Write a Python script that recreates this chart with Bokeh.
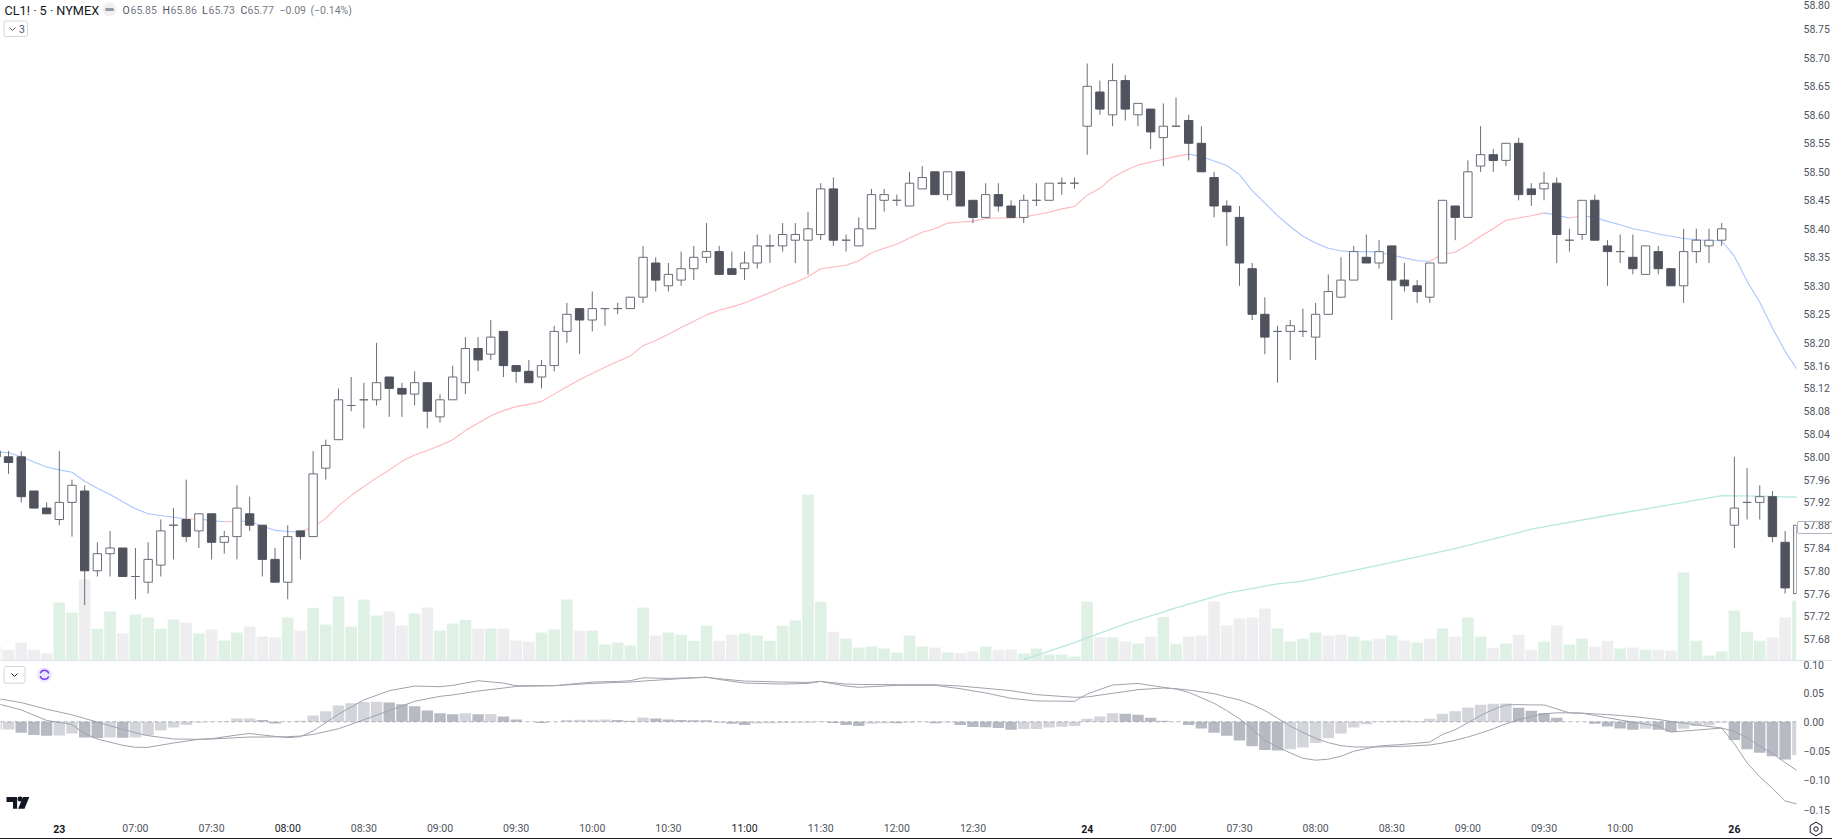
from bokeh.plotting import figure
from bokeh.layouts import column
from bokeh.models import (Range1d, FixedTicker, Label, BoxAnnotation, Span,
                          PrintfTickFormatter, ColumnDataSource)
from bokeh.core.properties import value
from bokeh.embed import file_html
from bokeh.resources import INLINE

bars = list(range(-5, 138))

opens = [58.01,58.00,58.00,57.94,57.91,57.89,57.92,57.94,57.80,57.83,
         57.84,57.79,57.78,57.81,57.88,57.89,57.87,57.90,57.85,57.86,
         57.90,57.88,57.82,57.78,57.87,57.86,57.98,58.03,58.09,58.10,
         58.10,58.14,58.12,58.11,58.13,58.07,58.10,58.13,58.19,58.18,
         58.22,58.16,58.15,58.14,58.16,58.22,58.26,58.24,58.26,58.26,
         58.26,58.28,58.34,58.30,58.31,58.33,58.35,58.36,58.33,58.33,
         58.34,58.37,58.37,58.38,58.38,58.39,58.47,58.38,58.37,58.40,
         58.45,58.45,58.44,58.47,58.50,58.46,58.50,58.45,58.42,58.46,
         58.44,58.42,58.45,58.45,58.48,58.48,58.58,58.64,58.60,58.66,
         58.60,58.61,58.56,58.58,58.59,58.55,58.49,58.44,58.42,58.33,
         58.25,58.22,58.22,58.22,58.21,58.25,58.28,58.31,58.35,58.34,
         58.37,58.31,58.30,58.28,58.34,58.44,58.42,58.51,58.53,58.52,
         58.55,58.47,58.47,58.48,58.38,58.39,58.45,58.37,58.36,58.35,
         58.32,58.36,58.33,58.30,58.36,58.37,58.38,57.88,57.92,57.92,
         57.93,57.85,57.76]
highs = [58.01,58.01,58.01,57.94,57.92,58.01,57.96,57.95,57.85,57.87,
         57.84,57.84,57.85,57.89,57.91,57.96,57.90,57.90,57.87,57.95,
         57.93,57.88,57.84,57.88,57.87,58.01,58.03,58.12,58.14,58.13,
         58.20,58.14,58.13,58.15,58.13,58.11,58.16,58.21,58.21,58.24,
         58.22,58.16,58.17,58.17,58.23,58.27,58.26,58.29,58.26,58.27,
         58.28,58.37,58.35,58.34,58.36,58.37,58.41,58.37,58.36,58.36,
         58.39,58.39,58.41,58.41,58.43,58.48,58.49,58.39,58.42,58.47,
         58.47,58.46,58.50,58.51,58.50,58.50,58.50,58.45,58.48,58.48,
         58.45,58.46,58.48,58.48,58.49,58.49,58.69,58.66,58.69,58.67,
         58.62,58.61,58.62,58.63,58.60,58.58,58.50,58.45,58.44,58.34,
         58.28,58.23,58.24,58.26,58.27,58.32,58.35,58.37,58.39,58.38,
         58.37,58.34,58.31,58.34,58.45,58.44,58.52,58.58,58.54,58.55,
         58.56,58.48,58.50,58.49,58.40,58.45,58.46,58.38,58.39,58.39,
         58.37,58.37,58.33,58.40,58.40,58.40,58.41,58.00,57.98,57.95,
         57.94,57.87,57.88]
lows = [58.00,57.97,57.92,57.91,57.90,57.88,57.86,57.74,57.79,57.79,
        57.79,57.75,57.76,57.79,57.82,57.85,57.84,57.82,57.83,57.82,
        57.87,57.79,57.78,57.75,57.82,57.86,57.96,58.03,58.08,58.05,
        58.09,58.07,58.07,58.09,58.05,58.06,58.10,58.11,58.15,58.17,
        58.14,58.13,58.13,58.12,58.15,58.20,58.18,58.22,58.23,58.25,
        58.26,58.27,58.29,58.29,58.30,58.31,58.34,58.32,58.32,58.31,
        58.33,58.34,58.36,58.34,58.32,58.38,58.37,58.36,58.37,58.40,
        58.43,58.44,58.44,58.47,58.46,58.45,58.44,58.41,58.42,58.43,
        58.42,58.41,58.44,58.45,58.46,58.47,58.53,58.60,58.58,58.59,
        58.58,58.54,58.51,58.58,58.52,58.50,58.42,58.37,58.30,58.24,
        58.18,58.13,58.17,58.21,58.17,58.25,58.28,58.31,58.34,58.33,
        58.24,58.29,58.27,58.27,58.34,58.38,58.42,58.50,58.50,58.51,
        58.45,58.44,58.45,58.34,58.36,58.38,58.38,58.30,58.34,58.32,
        58.32,58.32,58.30,58.27,58.34,58.34,58.37,57.84,57.89,57.89,
        57.85,57.76,57.76]
closes = [58.00,57.99,57.93,57.91,57.90,57.92,57.95,57.80,57.83,57.84,
          57.79,57.79,57.82,57.87,57.88,57.86,57.90,57.85,57.86,57.91,
          57.88,57.82,57.78,57.86,57.86,57.97,58.02,58.10,58.09,58.10,
          58.13,58.12,58.11,58.13,58.08,58.10,58.14,58.19,58.17,58.21,
          58.16,58.15,58.13,58.16,58.22,58.25,58.24,58.26,58.26,58.26,
          58.28,58.35,58.31,58.32,58.33,58.35,58.36,58.32,58.32,58.34,
          58.37,58.37,58.39,58.39,58.40,58.47,58.38,58.38,58.40,58.46,
          58.46,58.45,58.48,58.49,58.46,58.50,58.44,58.42,58.46,58.44,
          58.42,58.45,58.45,58.48,58.48,58.48,58.65,58.61,58.66,58.61,
          58.62,58.57,58.58,58.58,58.55,58.50,58.44,58.43,58.34,58.25,
          58.21,58.22,58.23,58.22,58.25,58.29,58.31,58.36,58.34,58.36,
          58.31,58.30,58.29,58.34,58.45,58.42,58.50,58.53,58.52,58.55,
          58.46,58.46,58.48,58.39,58.38,58.45,58.38,58.36,58.36,58.33,
          58.37,58.33,58.30,58.36,58.38,58.38,58.40,57.91,57.92,57.93,
          57.86,57.77,57.88]

# moving average, in cents above 58.00
ema_cents = [.9,.7,0,-.9,-1.8,-2.3,-2.7,-4.3,-5.5,-6.6,
             -7.9,-9.1,-10,-10.3,-10.6,-10.9,-10.9,-11.2,-11.4,-11.3,
             -11.3,-12.2,-12.9,-13.1,-13.2,-12.3,-10.8,-8.6,-6.8,-5.2,
             -3.7,-2.3,-.8,.3,1.1,2,3,4.6,5.9,7.2,
             8.1,8.8,9.2,9.7,11,12.3,13.5,14.6,15.7,16.7,
             17.7,19.5,20.4,21.5,22.7,23.8,24.9,25.7,26.3,27,
             27.9,28.8,29.8,30.6,31.6,33,33.3,33.6,34.4,35.8,
             36.6,37.3,38.4,39.4,40,41,41.2,41.3,41.8,41.9,
             41.9,42,42.5,42.9,43.5,43.9,45.9,47.1,49,50.2,
             51.2,51.7,52.2,52.7,53.1,52.7,51.9,51.1,49.5,46.7,
             44.5,42.3,40.4,38.7,37.5,36.6,36.1,36,36,35.9,
             35.4,34.9,34.4,34.3,35.5,35.9,37.2,38.7,40,41.5,
             41.9,42.3,42.8,42.4,41.9,42.3,42,41.3,40.7,40,
             39.6,39.1,38.7,38.3,38.1,37.9,37.9,35.2,30.8,27.1,
             22.6,18.5,15.2]
ema_red_spans = [(10, 11), (13, 14), (19, 89), (108, 117), (119, 120)]

sma_bars = [76,80,84,88,92,96,98,104,110,116,122,128,131,134,137]
sma_cents = [-35.6,-32.6,-29.3,-26.5,-23.9,-22.3,-21.8,-19,-16.1,-12.7,-10.3,-8,-6.8,-6.9,-7.1]

volume = [14,10.7,18,10.7,7,58,48,81,31.7,49,
          27,46,43,31.7,41,38,27,31,20,28,
          34,24,23,43,30,52.7,36,64,34,61,
          45,49,35,47,53,30,37,40.7,32,32,
          32,20,19,28,31,61,30,30,16,18,
          15,53,25,28,25.7,19.7,34.7,19.7,25.7,27,
          25,19.7,34.7,40,166,58.7,28.7,22,13,14,
          12,8,25,14,13,8,7.3,9,14,10.7,
          11,7,12,6,6,4,59,23.3,23,19,
          17,24,43.3,16.7,24,25,59,35,42,43,
          52,32,19,21.7,28,25,26,24,20,22,
          25,20,18,22,32,24,43,24,12.7,17,
          25.7,10.7,19,35,16,22,14,19.7,12,13,
          10.7,10.7,10,88,19.7,5,9,50,28.7,19.7,
          23,43,60]
vol_up = [1,0,0,0,0,1,1,0,1,1,
          0,1,1,1,1,0,1,0,1,1,
          0,0,0,1,0,1,1,1,1,1,
          1,0,0,1,0,1,1,1,0,1,
          0,0,0,1,1,1,0,1,1,1,
          1,1,0,1,1,1,1,0,0,1,
          1,1,1,1,1,1,0,1,1,1,
          1,1,1,1,0,1,0,0,1,0,
          0,1,1,1,1,1,1,0,1,0,
          1,0,1,1,0,0,0,0,0,0,
          0,1,1,1,1,0,0,1,1,0,
          1,0,1,0,1,0,1,1,0,1,
          0,0,1,0,1,1,0,0,1,0,
          1,0,0,1,1,1,1,1,1,1,
          0,0,1]

hist_milli = [-13,-13,-18.6,-22.6,-23.7,-23.2,-19.8,-26.6,-27.7,-27,
              -27.3,-26.9,-23.2,-14.7,-9.6,-5.6,-1,-.2,1,5.6,
              5.8,3,-3,-.3,1.7,10.7,18,27.7,31.6,34,
              34.2,32.8,30,26.6,19.2,14.7,13,14.7,13,13.2,
              9,4,.2,-2,0,3,3.4,3.6,4,3,
              2,7.3,5.6,4,3,2.8,2.7,-1,-3.4,-5.6,
              -3,-2.5,-2,-1.7,-1.6,1,-2,-5.6,-7.3,-3.4,
              -2.5,-2.6,-1,-.5,-2.5,-1,-5.6,-9,-9.2,-10.7,
              -13.6,-12.4,-12.2,-9.6,-8.5,-7.3,5,9,14.7,13.6,
              12,6.8,2,0,-5.6,-11.3,-18.6,-23.7,-32,-41.8,
              -48,-49,-46.9,-44,-36,-28,-19.8,-9.6,-4,1,
              2,2.2,1,5,13.6,18,24.3,29,31,31.2,
              24,19,15,6.8,0,-.1,-3.4,-8,-11.3,-13.6,
              -12,-13.6,-17,-12,-7.3,-6,-1,-31,-47,-53,
              -59,-64.4,-57]

macd_bars = [-5,-3,-1,1,2,3,5,6,7,9,11,12,14,15,16,18,19,20,22,24,26,28,30,31,33,35,36,39,42,44,
             45,46,48,50,51,52,54,57,59,60,62,63,66,69,71,73,75,77,80,81,83,85,87,88,89,91,92,93,
             94,95,96,97,98,99,100,101,102,104,106,108,109,110,111,112,113,114,115,116,117,118,119,
             120,122,124,126,127,128,130,131,132,133,134,135,136,137]
signal_milli = [40.1,32.8,21.5,11.9,5.7,-.6,-13,-18.6,-23.7,-29.4,-29.9,-29.4,-27.1,-26,-26,-25.4,-24.3,-21.5,-11.9,3.4,19.2,35,43.5,45.8,52.5,57.6,60.5,61.6,65.5,67.2,
                67.8,69.5,72.3,75.1,75.7,73.5,69.5,67.8,67.2,68.9,64.4,63.8,63.3,63.3,61,57.1,53.1,46.3,41.8,42.4,48.6,54.8,57.6,56.5,54.2,48,42.4,37.3,
                29.4,19.2,6.2,-7.3,-18.1,-28.3,-35.6,-40.7,-42.9,-42.9,-41.8,-39.6,-36.2,-31.6,-26,-19.2,-11.9,-3.4,3.4,9,13.6,15.3,15.3,
                14.7,12.4,9,4,.6,-2.3,-7.9,-10.7,-16.4,-27.1,-41.8,-54.2,-69.5,-84.2]
macd_milli = [31.6,20.3,2.3,-4.5,-20.3,-29.4,-40.1,-43.5,-43.5,-36.2,-29.9,-28.8,-22.6,-19.8,-22.6,-27.1,-25.4,-15.8,13,37.3,53.1,61,59.9,62.2,70.1,66.1,61.6,61.6,67.8,68.9,
              70.1,75.1,74,75.1,76.3,72.3,66.1,64.4,65.5,68.9,61,58.8,62.2,62.2,56.5,49.2,40.1,35.6,35,47.5,62.7,65.5,58.8,55.9,50.3,31.6,19.2,5.1,
              -11.9,-31.6,-42.9,-53.1,-62.2,-65.5,-63.8,-58.8,-50.3,-41.2,-38.4,-34.5,-21.5,-13.6,-1.7,10.7,20.9,28.8,29.4,28.8,28.8,22,15.3,
              14.7,6.8,-.6,-7.3,-17.5,-15.8,-12.4,-10.7,-37.3,-70.1,-93.8,-113.6,-135,-140.7]

price_ticks = [58.80,58.75,58.70,58.65,58.60,58.55,58.50,58.45,58.40,58.35,58.30,58.25,58.20,
               58.16,58.12,58.08,58.04,58.00,57.96,57.92,57.88,57.84,57.80,57.76,57.72,57.68]
macd_ticks = [0.10,0.05,0.0,-0.05,-0.10,-0.15]
macd_tick_labels = ["0.10","0.05","0.00","\u22120.05","\u22120.10","\u22120.15"]
time_ticks = [0,6,12,18,24,30,36,42,48,54,60,66,72,81,87,93,99,105,111,117,123,132]
time_labels = ["23","07:00","07:30","08:00","08:30","09:00","09:30","10:00","10:30","11:00","11:30",
               "12:00","12:30","24","07:00","07:30","08:00","08:30","09:00","09:30","10:00","26"]
time_bold = ["23", "24", "26"]
time_dark = [18, 54]

for arr in (opens, highs, lows, closes, ema_cents, volume, vol_up, hist_milli):
    assert len(arr) == len(bars), len(arr)
assert len(macd_bars) == len(signal_milli) == len(macd_milli)

FONT = "Roboto"
W, H1, H2, H3 = 1832, 660, 158, 21
BODY_DARK, EDGE, RED, BLUE, TEAL = "#50535e", "#6a6d78", "#ffb6bb", "#a9c6ff", "#b8e8df"

def fx(px):
    return (px - 58.8) / 12.69
def fy1(px):
    return 58 + (456.3 - px) / 570
def fy2(px):
    return (721.3 - px) / 586

x_range = Range1d(fx(0), fx(1796))

def style_y(ax):
    ax.axis_line_color = None
    ax.major_tick_line_color = None
    ax.minor_tick_line_color = None
    ax.major_label_standoff = 1
    ax.major_label_text_font = FONT
    ax.major_label_text_font_size = "10.5px"
    ax.major_label_text_color = "#50535e"

p1 = figure(width=W, height=H1, x_range=x_range, y_range=Range1d(fy1(660), fy1(0)),
            x_axis_location=None, y_axis_location="right", toolbar_location=None,
            output_backend="svg", min_border_left=0, min_border_right=36,
            min_border_top=0, min_border_bottom=0, outline_line_color=None)
p1.grid.visible = False
p1.extra_y_ranges = {"vol": Range1d(0, H1)}
ax = p1.yaxis[0]
ax.ticker = FixedTicker(ticks=price_ticks)
ax.formatter = PrintfTickFormatter(format="%.2f")
style_y(ax)

vcol = ["#dff1e4" if u else "#eeeef0" for u in vol_up]
p1.vbar(x=bars, top=volume, bottom=0, width=0.92, fill_color=vcol, line_color=None, y_range_name="vol")

sx0, sy0, sx1, sy1, sc = [], [], [], [], []
for k in range(len(bars) - 1):
    b = bars[k]
    sx0.append(b); sx1.append(bars[k + 1])
    sy0.append(58 + ema_cents[k] / 100); sy1.append(58 + ema_cents[k + 1] / 100)
    sc.append(RED if any(a <= b < z for a, z in ema_red_spans) else BLUE)
p1.segment(sx0, sy0, sx1, sy1, line_color=sc, line_width=1.1)
p1.line(sma_bars, [58 + c / 100 for c in sma_cents], line_color=TEAL, line_width=1.3)

p1.segment(bars, highs, bars, lows, line_color=EDGE, line_width=1)
tops = [max(o, c) for o, c in zip(opens, closes)]
bots = [min(o, c) for o, c in zip(opens, closes)]
fills = [BODY_DARK if c < o else "#ffffff" for o, c in zip(opens, closes)]
lines = [BODY_DARK if c < o else EDGE for o, c in zip(opens, closes)]
p1.vbar(x=bars, top=tops, bottom=bots, width=0.66, fill_color=fills, line_color=lines, line_width=1)

def lab(fig, text, x, y_top, size, color, weight="normal", font=FONT, align="left", base_h=H1):
    fig.add_layout(Label(x=x, y=base_h - y_top, x_units="screen", y_units="screen", text=text,
                         text_font=font, text_font_size=size, text_color=color,
                         text_font_style=weight, text_align=align, text_baseline="middle"))

lab(p1, "CL1! \u00b7 5 \u00b7 NYMEX", 4, 9.5, "12.7px", "#131722")
p1.scatter([fx(109)], [fy1(9)], size=14, fill_color="#f0f0f3", line_color=None)
p1.line([fx(106), fx(112)], [fy1(9), fy1(9)], line_color="#9598a1", line_width=3, line_cap="round")
legend_parts = [("O", 122, "#50535e"), ("65.85", 130, "#787b86"), ("H", 162, "#50535e"), ("65.86", 170, "#787b86"),
                ("L", 201.5, "#50535e"), ("65.73", 208, "#787b86"), ("C", 240, "#50535e"), ("65.77", 247, "#787b86"),
                ("\u22120.09", 279, "#787b86"), ("(\u22120.14%)", 310, "#787b86")]
for t, x, c in legend_parts:
    lab(p1, t, x, 9.5, "10.5px", c)
p1.add_layout(BoxAnnotation(left=3.5, right=27, bottom=H1 - 36, top=H1 - 20.5, left_units="screen", right_units="screen",
                            top_units="screen", bottom_units="screen", fill_alpha=0, line_color="#d1d4dc", line_alpha=1,
                            line_width=1, border_radius=2))
p1.line([fx(9), fx(12), fx(15)], [fy1(27), fy1(30), fy1(27)], line_color="#50535e", line_width=1)
lab(p1, "3", 18.5, 28, "10.5px", "#50535e")

# ---- MACD pane
p2 = figure(width=W, height=H2, x_range=x_range, y_range=Range1d(fy2(818), fy2(660)),
            x_axis_location=None, y_axis_location="right", toolbar_location=None, output_backend="svg",
            min_border_left=0, min_border_right=36, min_border_top=0, min_border_bottom=0,
            outline_line_color=None)
p2.grid.visible = False
ay = p2.yaxis[0]
ay.ticker = FixedTicker(ticks=macd_ticks)
ay.major_label_overrides = dict(zip(macd_ticks, macd_tick_labels))
style_y(ay)

hist = [v / 1000 for v in hist_milli]
hcol = ["#b8bac3" if k == 0 or hist[k] < hist[k - 1] else "#d3d5db" for k in range(len(hist))]
p2.vbar(x=bars, top=hist, bottom=0, width=0.9, fill_color=hcol, line_color=None)
p2.add_layout(Span(location=0, dimension="width", line_color="#787b86", line_alpha=0.55, line_width=1, line_dash="4 3"))
p2.line(macd_bars, [v / 1000 for v in signal_milli], line_color="#a0a3ac", line_width=1)
p2.line(macd_bars, [v / 1000 for v in macd_milli], line_color="#a0a3ac", line_width=1)

p2.add_layout(BoxAnnotation(left=3.5, right=24.5, bottom=H2 - 22.7, top=H2 - 6, left_units="screen", right_units="screen",
                            top_units="screen", bottom_units="screen", fill_alpha=0, line_color="#d1d4dc", line_alpha=1,
                            line_width=1, border_radius=2))
p2.line([fx(11), fx(14), fx(17)], [fy2(673), fy2(676), fy2(673)], line_color="#131722", line_width=1)
p2.scatter([fx(44)], [fy2(674.3)], size=15, fill_color="#ede7ff", line_color=None)
p2.arc([fx(44)], [fy2(674.3)], radius=4.5, radius_units="screen", start_angle=0.3, end_angle=2.8, line_color="#7a3ff2", line_width=1.4)
p2.arc([fx(44)], [fy2(674.3)], radius=4.5, radius_units="screen", start_angle=3.4, end_angle=5.9, line_color="#7a3ff2", line_width=1.4)

# TradingView mark
p2.patches([[fx(6), fx(16.6), fx(16.6), fx(12.5), fx(12.5), fx(9.5), fx(9.5), fx(6)],
            [fx(22.5), fx(28.8), fx(24), fx(17.6)]],
           [[fy2(796.5), fy2(796.5), fy2(808.3), fy2(808.3), fy2(801.5), fy2(801.5), fy2(801.5), fy2(801.5)],
            [fy2(796.5), fy2(796.5), fy2(808.3), fy2(808.3)]],
           fill_color="#131722", line_color=None)
p2.scatter([fx(19.6)], [fy2(798.6)], size=5, fill_color="#131722", line_color=None)

# ---- time scale row, on the same bar scale as the panes above
p3 = figure(width=W, height=H3, x_range=x_range, y_range=Range1d(0, H3),
            x_axis_location=None, y_axis_location=None, toolbar_location=None, output_backend="svg",
            min_border_left=0, min_border_right=36, min_border_top=0, min_border_bottom=0,
            outline_line_color=None)
p3.grid.visible = False
src = ColumnDataSource(dict(
    x=time_ticks, y=[11] * len(time_ticks), t=time_labels,
    s=["bold" if t in time_bold else "normal" for t in time_labels],
    c=["#131722" if (t in time_bold or b in time_dark) else "#50535e" for t, b in zip(time_labels, time_ticks)],
))
p3.text(x="x", y="y", text="t", source=src, text_font=value(FONT), text_font_size="10.5px",
        text_font_style="s", text_color="c", text_align="center", text_baseline="middle")

layout = column(p1, p2, p3, spacing=0)
html = file_html(layout, INLINE)
css = "<style>html,body{margin:0;padding:0;overflow:hidden}</style>"
overlay = ('<div style="position:fixed;left:0;top:660px;width:1832px;height:1px;background:#dfe3ec;z-index:9"></div>'
           '<div style="position:fixed;left:0;top:837.5px;width:1832px;height:1.5px;background:#1e222d;z-index:9"></div>'
           '<div style="position:fixed;left:1797px;top:520.5px;width:33.5px;height:11px;border:1px solid #b2b5be;'
           'border-radius:2px;z-index:9"></div>'
           '<svg style="position:fixed;left:1808px;top:821px;z-index:9" width="16" height="16" viewBox="0 0 16 16">'
           '<polygon points="8,1.2 13.8,4.6 13.8,11.4 8,14.8 2.2,11.4 2.2,4.6" fill="none" stroke="#131722" stroke-width="1"/>'
           '<circle cx="8" cy="8" r="2.2" fill="none" stroke="#131722" stroke-width="1"/></svg>')
html = html.replace("<head>", "<head>" + css, 1)
html = html.replace("</body>", overlay + "</body>", 1)
open("out.html", "w").write(html)
